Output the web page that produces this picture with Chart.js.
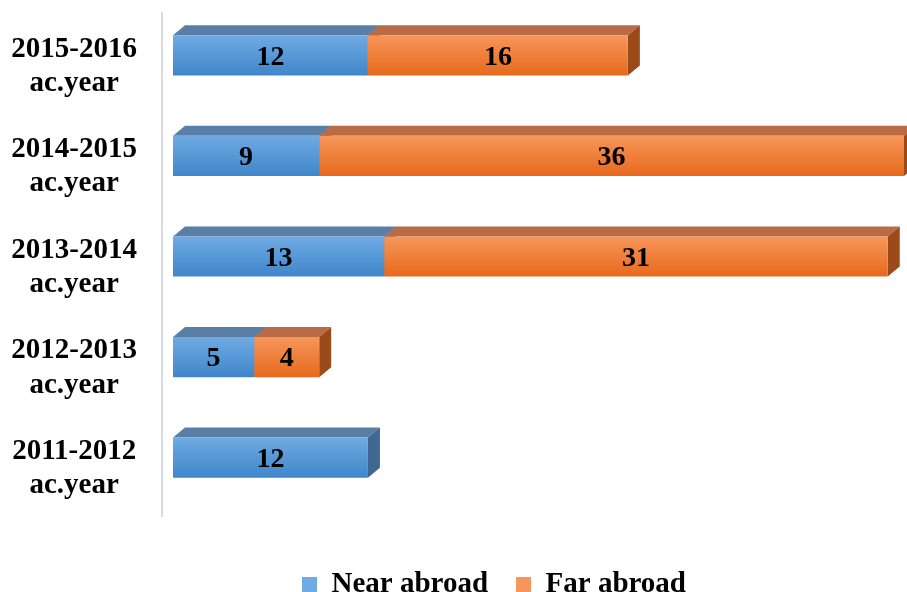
<!DOCTYPE html>
<html>
<head>
<meta charset="utf-8">
<script src="https://cdn.jsdelivr.net/npm/chart.js@4"></script>
<style>
  html, body { margin: 0; padding: 0; background: #fff; }
  #wrap { width: 907px; height: 592px; position: relative; }
</style>
</head>
<body>
<div id="wrap"><canvas id="abroadChart"></canvas></div>
<script>
// Students by academic year
const years = ['2015-2016', '2014-2015', '2013-2014', '2012-2013', '2011-2012'];
const nearAbroad = [12, 9, 13, 5, 12];
const farAbroad = [16, 36, 31, 4, null];

const frontColors = [['#70aae2', '#3f86cb'], ['#f7965a', '#e7691d']];
const topColors = ['#5a7fa7', '#b86b45'];
const sideColors = ['#3e6891', '#9a4b19'];
const depthX = 12;
const depthY = 10;

function frontFill(i) {
    return function (context) {
        const chart = context.chart;
        const ys = chart.scales.y;
        if (!ys || !chart.chartArea) return frontColors[i][1];
        const cy = ys.getPixelForValue(context.dataIndex);
        const half = ys.height / years.length * 0.4 / 2;
        const g = chart.ctx.createLinearGradient(0, cy - half, 0, cy + half);
        g.addColorStop(0, frontColors[i][0]);
        g.addColorStop(1, frontColors[i][1]);
        return g;
    };
}

const bar3d = {
    id: 'bar3d',
    afterLayout(chart) {
        // move the legend a bit, like the original
        chart.legend.left += 37;
        chart.legend.right += 37;
        chart.legend.top += 17;
        chart.legend.bottom += 17;
    },
    beforeDatasetsDraw(chart) {
        const c = chart.ctx;
        const area = chart.chartArea;
        c.save();
        // vertical axis line
        c.strokeStyle = '#d9dbe4';
        c.lineWidth = 2;
        c.beginPath();
        c.moveTo(area.left - 11, area.top + 7);
        c.lineTo(area.left - 11, area.bottom + 9);
        c.stroke();
        // top and side faces
        chart.data.datasets.forEach((ds, i) => {
            chart.getDatasetMeta(i).data.forEach((bar, j) => {
                if (ds.data[j] == null) return;
                const p = bar.getProps(['x', 'y', 'base', 'height'], true);
                const top = p.y - p.height / 2;
                const bottom = p.y + p.height / 2;
                c.fillStyle = topColors[i];
                c.beginPath();
                c.moveTo(p.base, top);
                c.lineTo(p.base + depthX, top - depthY);
                c.lineTo(p.x + depthX, top - depthY);
                c.lineTo(p.x, top);
                c.closePath();
                c.fill();
                c.fillStyle = sideColors[i];
                c.beginPath();
                c.moveTo(p.x, top);
                c.lineTo(p.x + depthX, top - depthY);
                c.lineTo(p.x + depthX, bottom - depthY);
                c.lineTo(p.x, bottom);
                c.closePath();
                c.fill();
            });
        });
        c.restore();
    },
    afterDatasetsDraw(chart) {
        const c = chart.ctx;
        c.save();
        c.font = 'bold 28px "Liberation Serif"';
        c.fillStyle = '#000';
        c.textAlign = 'center';
        c.textBaseline = 'middle';
        chart.data.datasets.forEach((ds, i) => {
            chart.getDatasetMeta(i).data.forEach((bar, j) => {
                const v = ds.data[j];
                if (v == null) return;
                const p = bar.getProps(['x', 'y', 'base'], true);
                c.fillText(String(v), (p.x + p.base) / 2, p.y + 2);
            });
        });
        c.restore();
    }
};

new Chart(document.getElementById('abroadChart').getContext('2d'), {
    type: 'bar',
    data: {
        labels: years.map(y => [y, 'ac.year']),
        datasets: [
            {
                label: 'Near abroad',
                data: nearAbroad,
                backgroundColor: frontFill(0),
                borderWidth: 0
            },
            {
                label: 'Far abroad',
                data: farAbroad,
                backgroundColor: frontFill(1),
                borderWidth: 0
            }
        ]
    },
    options: {
        indexAxis: 'y',
        responsive: true,
        maintainAspectRatio: false,
        animation: false,
        categoryPercentage: 0.8,
        barPercentage: 0.5,
        layout: {
            padding: { top: 5, left: 10, right: 3, bottom: 0 }
        },
        plugins: {
            legend: {
                position: 'bottom',
                labels: {
                    boxWidth: 15,
                    boxHeight: 15,
                    padding: 28,
                    color: '#000',
                    font: { family: 'Liberation Serif', size: 29, weight: 'bold' },
                    generateLabels(chart) {
                        return chart.data.datasets.map((ds, i) => ({
                            text: ds.label,
                            fillStyle: frontColors[i][0],
                            strokeStyle: frontColors[i][0],
                            lineWidth: 0,
                            datasetIndex: i,
                            fontColor: '#000'
                        }));
                    }
                }
            },
            tooltip: { enabled: false }
        },
        scales: {
            x: {
                stacked: true,
                min: 0,
                max: 45,
                ticks: { display: false },
                grid: { display: false },
                border: { display: false },
                afterFit(scale) { scale.height = 17; }
            },
            y: {
                stacked: true,
                grid: { display: false, drawTicks: false },
                border: { display: false },
                ticks: {
                    crossAlign: 'center',
                    padding: 36,
                    labelOffset: 11,
                    color: '#000',
                    font: { family: 'Liberation Serif', size: 29, weight: 'bold', lineHeight: 1.18 }
                },
                afterFit(scale) {
                    scale.width = 163;
                    scale.paddingTop = 0;
                    scale.paddingBottom = 0;
                }
            }
        }
    },
    plugins: [bar3d]
});
</script>
</body>
</html>
